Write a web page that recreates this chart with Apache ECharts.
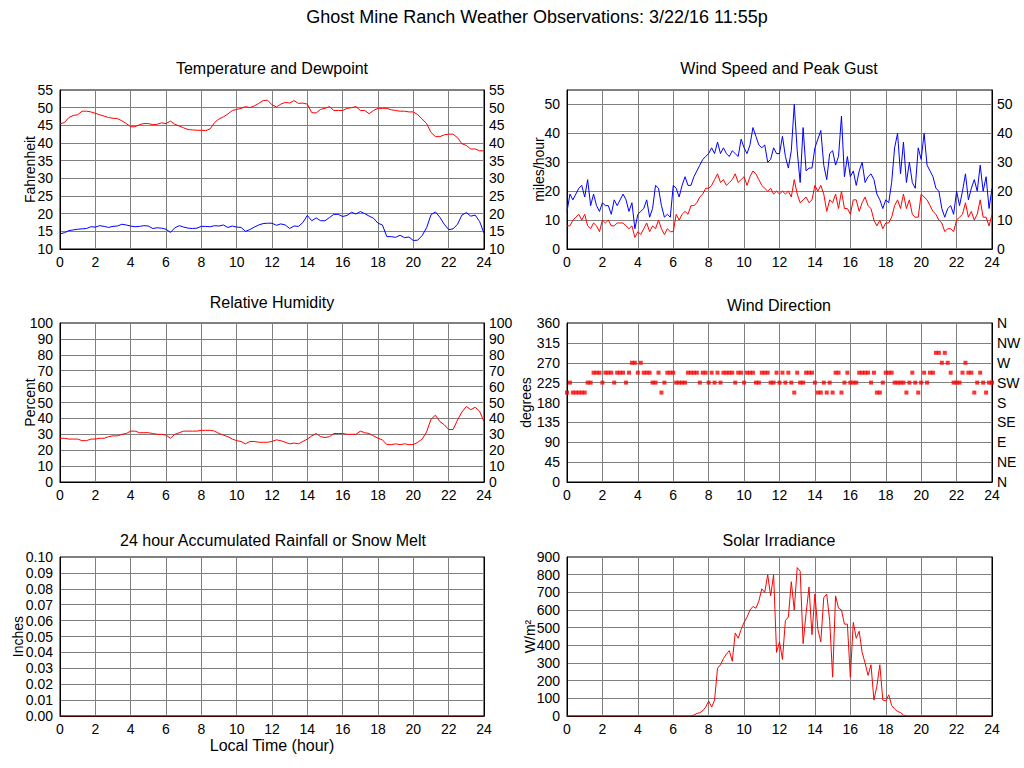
<!DOCTYPE html>
<html><head><meta charset="utf-8">
<script src="https://cdn.jsdelivr.net/npm/echarts@6/dist/echarts.min.js"></script>
<style>html,body{margin:0;padding:0;background:#fff}#c{width:1024px;height:768px}</style>
</head><body><div id="c"></div>
<script>
const FONT = '"Liberation Sans", Arial, Helvetica, sans-serif';
const mainTitle = 'Ghost Mine Ranch Weather Observations: 3/22/16 11:55p';
const panelTitles = ['Temperature and Dewpoint','Wind Speed and Peak Gust','Relative Humidity','Wind Direction','24 hour Accumulated Rainfall or Snow Melt','Solar Irradiance'];
const compassNames = ['N','NE','E','SE','S','SW','W','NW','N'];

// 15-minute samples, 0..24 h
const tempF = [45.4,45.8,47.2,47.8, 48.0,49.0,49.0,48.8, 48.4,48.0,47.6,47.2, 47.0,46.9,46.3,45.5,
  44.6,44.6,45.2,45.5, 45.5,45.2,45.3,45.7, 45.5,46.2,45.3,44.8, 44.3,43.8,43.7,43.6,
  43.6,43.5,44.0,45.8, 46.8,47.4,48.2,49.2, 49.5,49.8,50.3,50.0, 50.5,51.2,52.0,52.1,
  50.8,50.2,51.0,51.5, 51.3,52.0,51.2,51.3, 51.0,48.6,48.5,49.5, 49.8,50.3,49.2,49.2,
  49.2,49.8,50.0,50.3, 49.2,49.2,48.3,49.2, 49.8,49.8,49.8,49.4, 49.2,49.0,49.0,48.8,
  48.8,48.0,46.8,45.5, 43.0,41.8,41.8,42.3, 42.5,42.5,41.5,39.8, 39.3,38.3,38.3,37.8, 37.8];
const dewF = [14.3,14.6,15.2,15.4, 15.6,15.7,15.8,16.3, 16.2,16.6,16.4,16.1, 16.4,16.5,17.0,16.8,
  16.5,16.3,16.4,16.6, 16.5,15.8,16.0,15.9, 15.6,14.7,16.0,16.6, 16.2,15.9,15.8,15.9,
  16.4,16.4,16.3,16.6, 16.5,16.8,16.1,16.5, 16.2,16.1,15.0,15.5, 16.2,16.8,17.2,17.3,
  17.3,16.7,17.1,16.8, 15.8,16.5,16.4,17.5, 19.5,18.0,18.8,18.0, 18.0,18.9,19.8,19.8,
  19.2,19.5,20.4,19.9, 20.6,20.0,19.3,18.7, 17.3,16.8,13.5,13.5, 13.3,13.9,13.2,13.4,
  12.4,12.5,13.8,16.0, 19.7,20.5,19.0,17.0, 15.5,15.7,17.0,19.6, 20.3,19.3,19.6,17.8, 14.5];
const humidity = [27.5,27.5,27,27, 27,26,26,27, 27,27.5,27.5,28.5, 29,29,30,30.5,
  32,32,31,31, 31,30.5,30,30, 29.5,27.5,30,31, 32,32,32,32,
  32.5,32.5,32.5,32, 30.5,29.5,28.5,27, 26,25.5,24,25.5, 25.5,25,25,25,
  25.5,26.5,26,25, 24,24.5,24,25.5, 27,29,30.5,28.5, 28,28.5,30.5,30.5,
  30.5,30,30,30, 32,31,30.5,29, 27.5,26.5,23.5,23.5, 24,23.5,24,23.5,
  23.5,25,27,31.5, 39.5,42,38,36, 33,33,39,44, 47.5,45.5,47,44.5, 38];

// 10-minute samples, 0..24 h
const windGust = [13,19,17,19,21,22, 18,24,15,19,15,13, 16,15,15,12,17,15, 17,19,17,13,16,7,
  12,13,14,17,11,14, 22,21,15,11,12,11, 22,21,18,22,25,22, 22,25,27,29,31,32,
  33,35,33,37,33,35, 33,32,34,33,32,38, 35,33,36,42,39,36, 35,36,30,31,35,33,
  33,39,32,28,34,50, 34,23,42,27,28,28, 35,38,41,29,24,33, 34,29,32,46,25,32,
  25,27,22,27,30,23, 25,26,24,19,17,14, 17,16,23,35,40,26, 37,23,30,23,21,35,
  31,40,29,27,25,21, 20,14,11,14,15,12, 20,15,20,26,17,21, 24,20,29,20,25,14, 21];
const windSpeed = [8,8,10,11,12,10, 12,8,7,9,8,6, 10,9,10,8,8,9, 9,9,8,7,8,4,
  6,5,7,9,6,8, 7,10,7,5,7,6, 6,12,10,12,13,12, 15,15,16,18,19,21,
  21,22,24,26,23,24, 22,23,24,26,23,24, 25,22,25,27,26,24, 22,21,20,21,19,20,
  19,20,19,20,18,24, 19,16,17,18,16,17, 22,20,22,19,13,17, 16,19,14,20,14,14,
  12,17,17,13,16,18, 15,14,10,8,10,7, 9,9,11,15,17,14, 19,14,17,12,11,11,
  19,18,17,15,13,12, 10,9,6,7,7,6, 10,11,12,16,11,13, 10,12,17,11,11,8, 12];
const windDirDeg = [202.5,225,202.5,202.5,202.5,202.5, 202.5,225,225,247.5,247.5,247.5,
  225,247.5,247.5,247.5,225,247.5, 247.5,247.5,225,247.5,270,270,
  247.5,270,247.5,247.5,247.5,225, 225,247.5,202.5,225,247.5,247.5,
  247.5,225,225,225,225,247.5, 247.5,247.5,247.5,225,247.5,247.5,
  225,247.5,225,247.5,225,247.5, 247.5,247.5,247.5,225,247.5,247.5,
  225,247.5,247.5,247.5,225,225, 247.5,247.5,247.5,225,225,247.5,
  225,247.5,225,247.5,225,202.5, 247.5,225,225,247.5,247.5,247.5,
  225,202.5,202.5,225,202.5,225, 202.5,247.5,247.5,202.5,225,247.5,
  225,225,225,247.5,247.5,247.5, 247.5,225,247.5,202.5,202.5,225,
  247.5,247.5,247.5,225,225,225, 225,202.5,225,247.5,225,202.5,
  225,247.5,225,247.5,247.5,292.5, 292.5,270,292.5,270,247.5,225,
  225,225,247.5,270,247.5,247.5, 202.5,225,247.5,225,202.5,225, 225];
const solarWm2 = [0,0,0,0,0,0, 0,0,0,0,0,0, 0,0,0,0,0,0, 0,0,0,0,0,0,
  0,0,0,0,0,0, 0,0,0,0,0,0, 0,0,0,0,0,0, 0,5,15,18,30,50,
  85,50,90,270,290,325, 350,370,310,470,440,490, 530,560,600,620,610,650, 720,700,800,680,800,360,
  420,320,540,560,760,600, 840,820,410,580,730,460, 690,490,420,670,690,540, 220,680,610,600,520,520,
  220,530,440,480,360,300, 230,290,90,170,290,90, 85,120,60,40,25,20, 5,0,0,0,0,0,
  0,0,0,0,0,0, 0,0,0,0,0,0, 0,0,0,0,0,0, 0,0,0,0,0,0, 0];
// hourly, 0..24 h
const rainIn = [0,0,0,0,0,0,0,0,0,0,0,0,0,0,0,0,0,0,0,0,0,0,0,0,0];

const STEP15 = 0.25, STEP10 = 1/6, STEP60 = 1;
const pairs = (arr, step) => arr.map((v, i) => [i * step, v]);

const txt = (size) => ({ color: '#000', fontSize: size, fontFamily: FONT });

const grids = [
  { left: 60, top: 90, width: 424, height: 159 },
  { left: 567, top: 90, width: 425, height: 159 },
  { left: 60, top: 323, width: 424, height: 159 },
  { left: 567, top: 323, width: 425, height: 159 },
  { left: 60, top: 557, width: 424, height: 159 },
  { left: 567, top: 557, width: 425, height: 159 }
].map(g => Object.assign(g, { show: true, borderColor: '#000', borderWidth: 1, backgroundColor: '#fff', containLabel: false, outerBoundsMode: 'none' }));

function xAx(gi, name) {
  return {
    type: 'value', gridIndex: gi, min: 0, max: 24, interval: 2,
    axisLine: { show: true, onZero: false, lineStyle: { color: '#000', width: 1 } },
    axisTick: { show: false },
    axisLabel: Object.assign(txt(14), { margin: 6 }),
    splitLine: { show: true, showMinLine: false, showMaxLine: false, lineStyle: { color: '#808080', width: 1 } },
    name: name || '', nameLocation: 'middle', nameGap: 21, nameMoveOverlap: false, nameTextStyle: txt(16)
  };
}
function yAx(gi, pos, min, max, interval, o) {
  o = o || {};
  return {
    type: 'value', gridIndex: gi, position: pos, min, max, interval,
    axisLine: { show: true, onZero: false, lineStyle: { color: '#000', width: 1 } },
    axisTick: { show: false },
    axisLabel: Object.assign(txt(14), { show: o.labels !== false, margin: pos === 'left' ? 7 : 5, showMaxLabel: o.showMax !== false, formatter: o.fmt }),
    splitLine: { show: pos === 'left', showMinLine: false, showMaxLine: false, lineStyle: { color: '#808080', width: 1 } },
    name: o.name || '', nameLocation: 'middle', nameRotate: 90, nameGap: o.gap || 24, nameMoveOverlap: false, nameTextStyle: txt(14)
  };
}
const rainFmt = v => v.toFixed(2);
const compassFmt = v => compassNames[Math.round(v / 45)];

const yAxes = [
  yAx(0, 'left', 10, 55, 5, { name: 'Fahrenheit', gap: 23 }),
  yAx(0, 'right', 10, 55, 5),
  yAx(1, 'left', 0, 55, 10, { name: 'miles/hour', gap: 21, showMax: false }),
  yAx(1, 'right', 0, 55, 10, { showMax: false }),
  yAx(2, 'left', 0, 100, 10, { name: 'Percent', gap: 23 }),
  yAx(2, 'right', 0, 100, 10),
  yAx(3, 'left', 0, 360, 45, { name: 'degrees', gap: 34 }),
  yAx(3, 'right', 0, 360, 45, { fmt: compassFmt }),
  yAx(4, 'left', 0, 0.1, 0.01, { name: 'Inches', gap: 35, fmt: rainFmt }),
  yAx(4, 'right', 0, 0.1, 0.01, { labels: false }),
  yAx(5, 'left', 0, 900, 100, { name: 'W/m²', gap: 30 }),
  yAx(5, 'right', 0, 900, 100, { labels: false })
];

const titleDefs = [
  { text: mainTitle, x: 537, y: 17, size: 18 },
  { text: panelTitles[0], x: 272, y: 68, size: 16 },
  { text: panelTitles[1], x: 779, y: 68, size: 16 },
  { text: panelTitles[2], x: 272, y: 302, size: 16 },
  { text: panelTitles[3], x: 779, y: 305, size: 16 },
  { text: panelTitles[4], x: 273, y: 540, size: 16 },
  { text: panelTitles[5], x: 779, y: 540, size: 16 }
];

const lineS = (xi, yi, data, color) => ({
  type: 'line', xAxisIndex: xi, yAxisIndex: yi, data, showSymbol: false, symbol: 'none',
  lineStyle: { color, width: 1 }, itemStyle: { color }, animation: false, silent: true
});

const option = {
  animation: false,
  backgroundColor: '#fff',
  textStyle: { fontFamily: FONT },
  graphic: titleDefs.map(t => ({
    type: 'text', x: t.x, y: t.y, silent: true,
    style: { text: t.text, fill: '#000', font: t.size + 'px ' + FONT, align: 'center', verticalAlign: 'middle', textAlign: 'center', textVerticalAlign: 'middle' }
  })),
  grid: grids,
  xAxis: [xAx(0), xAx(1), xAx(2), xAx(3), xAx(4, 'Local Time (hour)'), xAx(5)],
  yAxis: yAxes,
  series: [
    lineS(0, 0, pairs(tempF, STEP15), '#ff0000'),
    lineS(0, 0, pairs(dewF, STEP15), '#0000ff'),
    lineS(1, 2, pairs(windGust, STEP10), '#0000ff'),
    lineS(1, 2, pairs(windSpeed, STEP10), '#ff0000'),
    lineS(2, 4, pairs(humidity, STEP15), '#ff0000'),
    { type: 'scatter', xAxisIndex: 3, yAxisIndex: 6, data: pairs(windDirDeg, STEP10), symbol: 'rect', symbolSize: [4, 4],
      itemStyle: { color: '#ff0000' }, animation: false, silent: true },
    lineS(4, 8, pairs(rainIn, STEP60), '#ff0000'),
    lineS(5, 10, pairs(solarWm2, STEP10), '#ff0000')
  ]
};
const chart = echarts.init(document.getElementById('c'), null, { renderer: 'svg', width: 1024, height: 768 });
chart.setOption(option);
</script>
</body></html>
